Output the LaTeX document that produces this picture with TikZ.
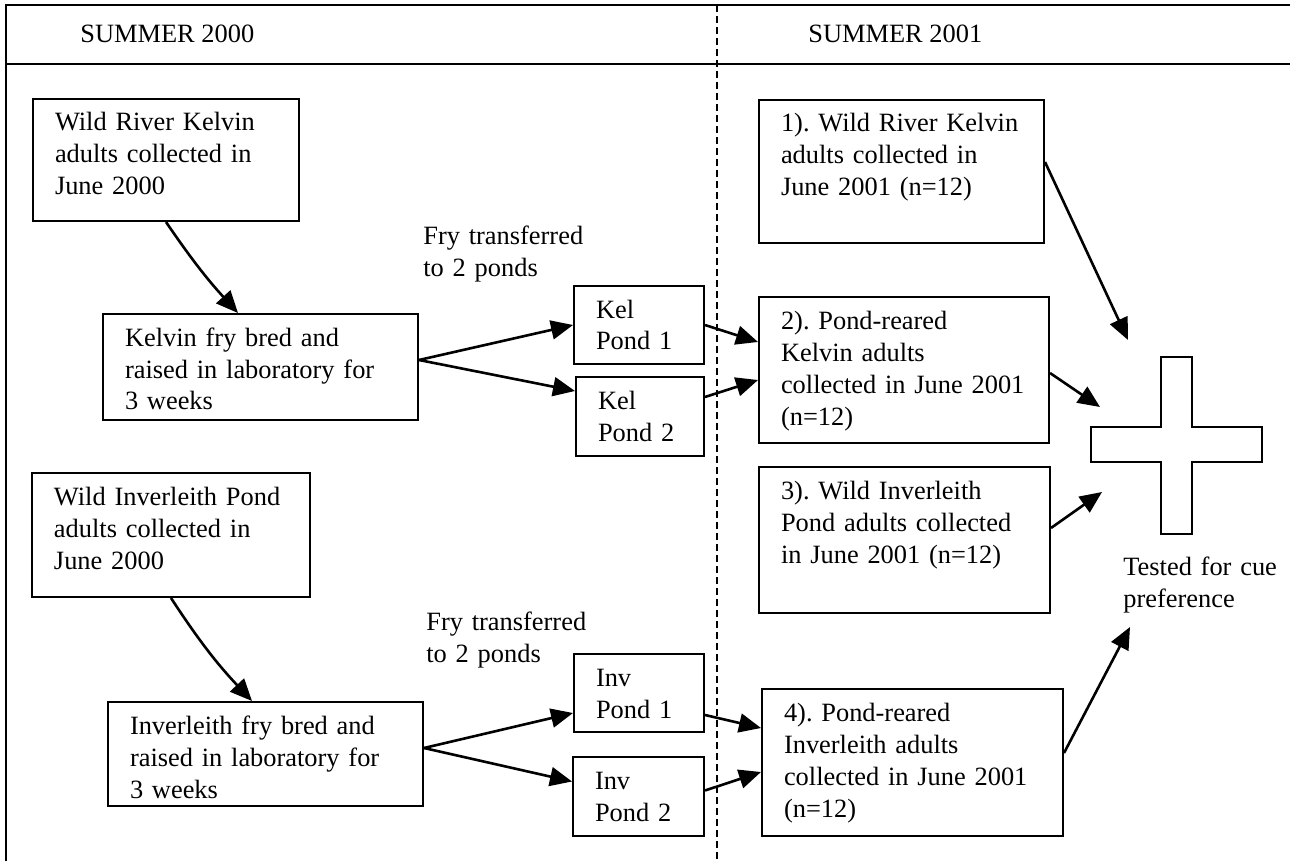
\documentclass[tikz,border=0pt]{standalone}
\usepackage{fontspec}
\setmainfont{Liberation Serif}
\usepackage{tikz}
\usetikzlibrary{arrows.meta,calc}
\tikzset{
    stagebox/.style={draw,line width=1pt,anchor=north west,inner xsep=11pt,
      inner ysep=0pt,text height=16pt,align=left},
    note/.style={anchor=base west,inner sep=0pt,align=left},
    flowarrow/.style={->,line width=1.3pt},
    frameline/.style={line width=1pt},
    divider/.style={line width=0.9pt,dash pattern=on 3.5pt off 2pt}
}
\frenchspacing
\begin{document}
\begin{tikzpicture}[x=0.5pt,y=-0.5pt,font=\fontsize{13.2}{16}\selectfont,
    >={Triangle[length=11pt,width=9.5pt]}]
  \useasboundingbox (0,0) rectangle (1290,861);
  % frame and the two seasons
  \draw[frameline] (1290,5) -- (6,5) -- (6,861);
  \draw[frameline] (6,64) -- (1290,64);
  \draw[divider] (717,5) -- (717,861);
  \node[note] (sum2000) at (80,43) {SUMMER 2000};
  \node[note] (sum2001) at (808,43) {SUMMER 2001};
  % summer 2000
  \node[stagebox,text width=111pt,text depth=45pt] (wildKel) at (32,98)
    {Wild River Kelvin\\adults collected in\\June 2000};
  \node[stagebox,text width=135.5pt,text depth=37pt] (kelFry) at (102,313)
    {Kelvin fry bred and\\raised in laboratory for\\3 weeks};
  \node[stagebox,text width=43pt,text depth=23pt] (kelP1) at (573,285) {Kel\\Pond 1};
  \node[stagebox,text width=42pt,text depth=23.5pt] (kelP2) at (575,376) {Kel\\Pond 2};
  \node[stagebox,text width=117pt,text depth=46pt] (wildInv) at (31,472)
    {Wild Inverleith Pond\\adults collected in\\June 2000};
  \node[stagebox,text width=135.5pt,text depth=36pt] (invFry) at (107,701)
    {Inverleith fry bred and\\raised in laboratory for\\3 weeks};
  \node[stagebox,text width=43pt,text depth=23pt] (invP1) at (573,653) {Inv\\Pond 1};
  \node[stagebox,text width=43.5pt,text depth=23.5pt] (invP2) at (572,756) {Inv\\Pond 2};
  \node[note,text width=90pt] (fryKel) at (423,245) {Fry transferred\\to 2 ponds};
  \node[note,text width=90pt] (fryInv) at (426,630) {Fry transferred\\to 2 ponds};
  % summer 2001
  \node[stagebox,text width=120.5pt,text depth=55.5pt] (wildKel01) at (758,99)
    {1). Wild River Kelvin\\adults collected in\\June 2001 (n=12)};
  \node[stagebox,text width=123pt,text depth=57pt] (pondKel01) at (758,296)
    {2). Pond-reared\\Kelvin adults\\collected in June 2001\\(n=12)};
  \node[stagebox,text width=123.5pt,text depth=57pt] (wildInv01) at (758,466)
    {3). Wild Inverleith\\Pond adults collected\\in June 2001 (n=12)};
  \node[stagebox,text width=128.5pt,text depth=57.5pt] (pondInv01) at (761,688)
    {4). Pond-reared\\Inverleith adults\\collected in June 2001\\(n=12)};
  % plus maze
  \draw[frameline] (1161,357) -- (1192,357) -- (1192,427) -- (1262,427) -- (1262,462)
    -- (1192,462) -- (1192,534) -- (1161,534) -- (1161,462) -- (1091,462)
    -- (1091,427) -- (1161,427) -- cycle;
  \node[note,text width=85pt] (tested) at (1123,575) {Tested for cue\\preference};
  \coordinate (toA) at (1128,340);
  \coordinate (toB) at (1100,407);
  \coordinate (toC) at (1102,492);
  \coordinate (toD) at (1130,627);
  % arrows
  \draw[flowarrow] (wildKel.south) to[bend right=4] ($(kelFry.north west)+(136,0)$);
  \draw[flowarrow] ($(kelFry.east)+(0,-7)$) -- (kelP1.west);
  \draw[flowarrow] ($(kelFry.east)+(0,-7)$) -- ($(kelP2.north west)+(0,15)$);
  \draw[flowarrow] (kelP1.east) -- ($(pondKel01.north west)+(0,46)$);
  \draw[flowarrow] ($(kelP2.north east)+(0,21)$) -- ($(pondKel01.north west)+(0,84)$);
  \draw[flowarrow] (wildInv.south) to[bend right=5] ($(invFry.north west)+(145,0)$);
  \draw[flowarrow] ($(invFry.east)+(0,-6)$) -- ($(invP1.west)+(0,20)$);
  \draw[flowarrow] ($(invFry.east)+(0,-6)$) -- ($(invP2.west)+(0,-15)$);
  \draw[flowarrow] ($(invP1.east)+(0,22)$) -- ($(pondInv01.north west)+(0,40)$);
  \draw[flowarrow] ($(invP2.east)+(0,-6)$) -- ($(pondInv01.north west)+(0,84)$);
  \draw[flowarrow] ($(wildKel01.north east)+(0,63)$) -- (toA);
  \draw[flowarrow] ($(pondKel01.north east)+(0,77)$) -- (toB);
  \draw[flowarrow] ($(wildInv01.north east)+(0,62)$) -- (toC);
  \draw[flowarrow] ($(pondInv01.north east)+(0,65)$) -- (toD);
\end{tikzpicture}
\end{document}
